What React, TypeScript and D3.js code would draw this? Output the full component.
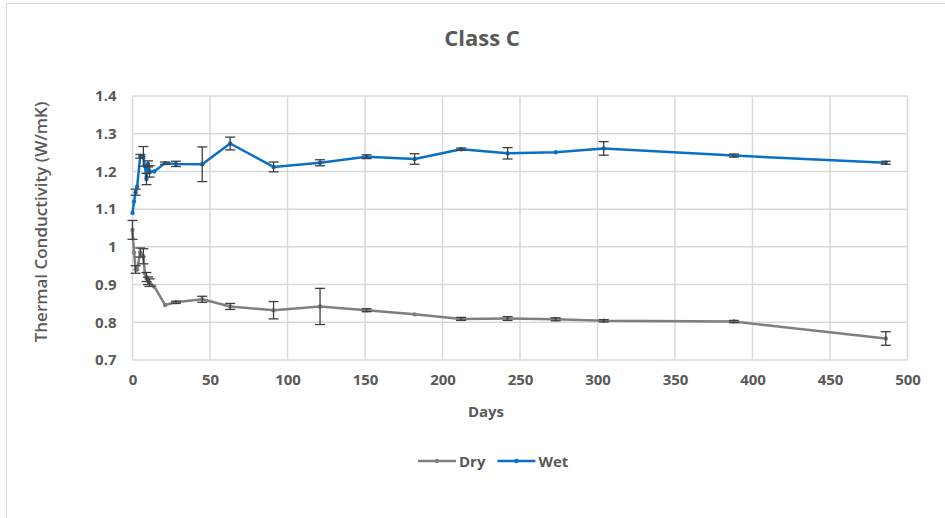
import React, { useEffect, useRef } from "react";
import * as d3 from "d3";

// measurement days (shared by both series)
const days = [0, 1, 2, 3, 5, 7, 8, 9, 10, 11, 14, 21, 28, 45, 63, 91, 121, 151, 182, 212, 242, 273, 304, 388, 486];

const dryValues = [1.045, 0.985, 0.94, 0.94, 0.985, 0.975, 0.93, 0.92, 0.91, 0.905, 0.895, 0.846, 0.853, 0.861, 0.842, 0.832, 0.842, 0.832, 0.821, 0.809, 0.81, 0.808, 0.804, 0.802, 0.757];
const dryErrors = [0.025, 0, 0.01, 0, 0.012, 0.02, 0, 0.012, 0.01, 0.01, 0, 0, 0.003, 0.008, 0.008, 0.023, 0.048, 0.004, 0, 0.004, 0.005, 0.004, 0.003, 0.003, 0.018];

const wetValues = [1.09, 1.12, 1.145, 1.16, 1.24, 1.24, 1.215, 1.18, 1.22, 1.2, 1.2, 1.222, 1.22, 1.219, 1.274, 1.212, 1.223, 1.239, 1.233, 1.259, 1.248, 1.251, 1.261, 1.242, 1.223];
const wetErrors = [0, 0, 0.008, 0, 0.005, 0.026, 0, 0.015, 0.008, 0.015, 0, 0.003, 0.007, 0.046, 0.017, 0.013, 0.008, 0.005, 0.014, 0.003, 0.015, 0, 0.018, 0.004, 0.004];

const xTicks = [0, 50, 100, 150, 200, 250, 300, 350, 400, 450, 500];
const yTicks = [0.7, 0.8, 0.9, 1, 1.1, 1.2, 1.3, 1.4];

const series = [
  { name: "Dry", values: dryValues, errors: dryErrors, color: "#7f7f7f" },
  { name: "Wet", values: wetValues, errors: wetErrors, color: "#0a70c6" },
];

const W = 945;
const H = 518;
const font = "'Open Sans', 'Liberation Sans', sans-serif";
const textColor = "#595959";

export default function App() {
  const ref = useRef<SVGSVGElement | null>(null);

  useEffect(() => {
    const svg = d3.select(ref.current);
    svg.selectAll("*").remove();

    const margin = { top: 96, left: 132.5, right: W - 907.5, bottom: H - 360 };

    const x = d3.scaleLinear().domain([0, 500]).range([margin.left, W - margin.right]);
    const y = d3.scaleLinear().domain([0.7, 1.4]).range([H - margin.bottom, margin.top]);

    // chart frame
    svg.append("rect")
      .attr("x", 6.5).attr("y", 3.5)
      .attr("width", W + 10).attr("height", H + 10)
      .attr("fill", "white")
      .attr("stroke", "#d9d9d9");

    // grid
    svg.append("g")
      .selectAll("line.h")
      .data(yTicks)
      .enter()
      .append("line")
      .attr("x1", x(0)).attr("x2", x(500))
      .attr("y1", d => y(d)).attr("y2", d => y(d))
      .attr("stroke", "#d9d9d9").attr("stroke-width", 1.5);

    svg.append("g")
      .selectAll("line.v")
      .data(xTicks)
      .enter()
      .append("line")
      .attr("y1", y(0.7)).attr("y2", y(1.4))
      .attr("x1", d => x(d)).attr("x2", d => x(d))
      .attr("stroke", "#d9d9d9").attr("stroke-width", 1.5);

    // axes (labels only)
    const yAxis = d3.axisLeft(y).tickValues(yTicks).tickSize(0).tickPadding(16)
      .tickFormat(d => String(d));
    const gy = svg.append("g").attr("transform", `translate(${x(0)},0)`).call(yAxis);
    gy.select(".domain").remove();
    gy.selectAll("text")
      .style("font-family", font).style("font-size", "15px")
      .style("font-weight", "700").attr("fill", textColor);

    const xAxis = d3.axisBottom(x).tickValues(xTicks).tickSize(0).tickPadding(14);
    const gx = svg.append("g").attr("transform", `translate(0,${y(0.7)})`).call(xAxis);
    gx.select(".domain").remove();
    gx.selectAll("text")
      .style("font-family", font).style("font-size", "15px")
      .style("font-weight", "700").attr("fill", textColor);

    // series
    const line = d3.line<number>()
      .x((d, i) => x(days[i]))
      .y(d => y(d));

    series.forEach(s => {
      svg.append("path")
        .datum(s.values)
        .attr("d", line)
        .attr("fill", "none")
        .attr("stroke", s.color)
        .attr("stroke-width", 2.5)
        .attr("stroke-linejoin", "round");

      svg.append("g")
        .selectAll("circle")
        .data(s.values)
        .enter()
        .append("circle")
        .attr("cx", (d, i) => x(days[i]))
        .attr("cy", d => y(d))
        .attr("r", 2.2)
        .attr("fill", s.color);
    });

    // error bars on top
    series.forEach(s => {
      const g = svg.append("g").attr("stroke", "#3f3f3f").attr("stroke-width", 1.3);
      s.values.forEach((v, i) => {
        const e = s.errors[i];
        if (!e) return;
        const cx = x(days[i]);
        g.append("line").attr("x1", cx).attr("x2", cx).attr("y1", y(v - e)).attr("y2", y(v + e));
        g.append("line").attr("x1", cx - 5).attr("x2", cx + 5).attr("y1", y(v - e)).attr("y2", y(v - e));
        g.append("line").attr("x1", cx - 5).attr("x2", cx + 5).attr("y1", y(v + e)).attr("y2", y(v + e));
      });
    });

    // titles
    svg.append("text")
      .attr("x", 482).attr("y", 46)
      .attr("text-anchor", "middle")
      .style("font-family", font).style("font-size", "22px").style("font-weight", "700")
      .attr("fill", textColor)
      .text("Class C");

    svg.append("text")
      .attr("x", 486).attr("y", 417)
      .attr("text-anchor", "middle")
      .style("font-family", font).style("font-size", "15px").style("font-weight", "700")
      .attr("fill", textColor)
      .text("Days");

    svg.append("text")
      .attr("transform", `translate(47,${(y(0.7) + y(1.4)) / 2 - 6}) rotate(-90)`)
      .attr("text-anchor", "middle")
      .style("font-family", font).style("font-size", "17px").style("font-weight", "600")
      .attr("fill", textColor)
      .text("Thermal Conductivity (W/mK)");

    // legend
    const legend = svg.append("g").attr("transform", "translate(418,461)");
    let lx = 0;
    series.forEach(s => {
      legend.append("line")
        .attr("x1", lx).attr("x2", lx + 38).attr("y1", 0).attr("y2", 0)
        .attr("stroke", s.color).attr("stroke-width", 2.5);
      legend.append("circle").attr("cx", lx + 19).attr("cy", 0).attr("r", 2.2).attr("fill", s.color);
      const t = legend.append("text")
        .attr("x", lx + 41).attr("y", 5.5)
        .style("font-family", font).style("font-size", "15px").style("font-weight", "700")
        .attr("fill", textColor)
        .text(s.name);
      lx += 41 + (t.node() as SVGTextElement).getComputedTextLength() + 12;
    });
  }, []);

  return (
    <svg ref={ref} width={W} height={H} style={{ position: "absolute", left: 0, top: 0, display: "block" }} />
  );
}
